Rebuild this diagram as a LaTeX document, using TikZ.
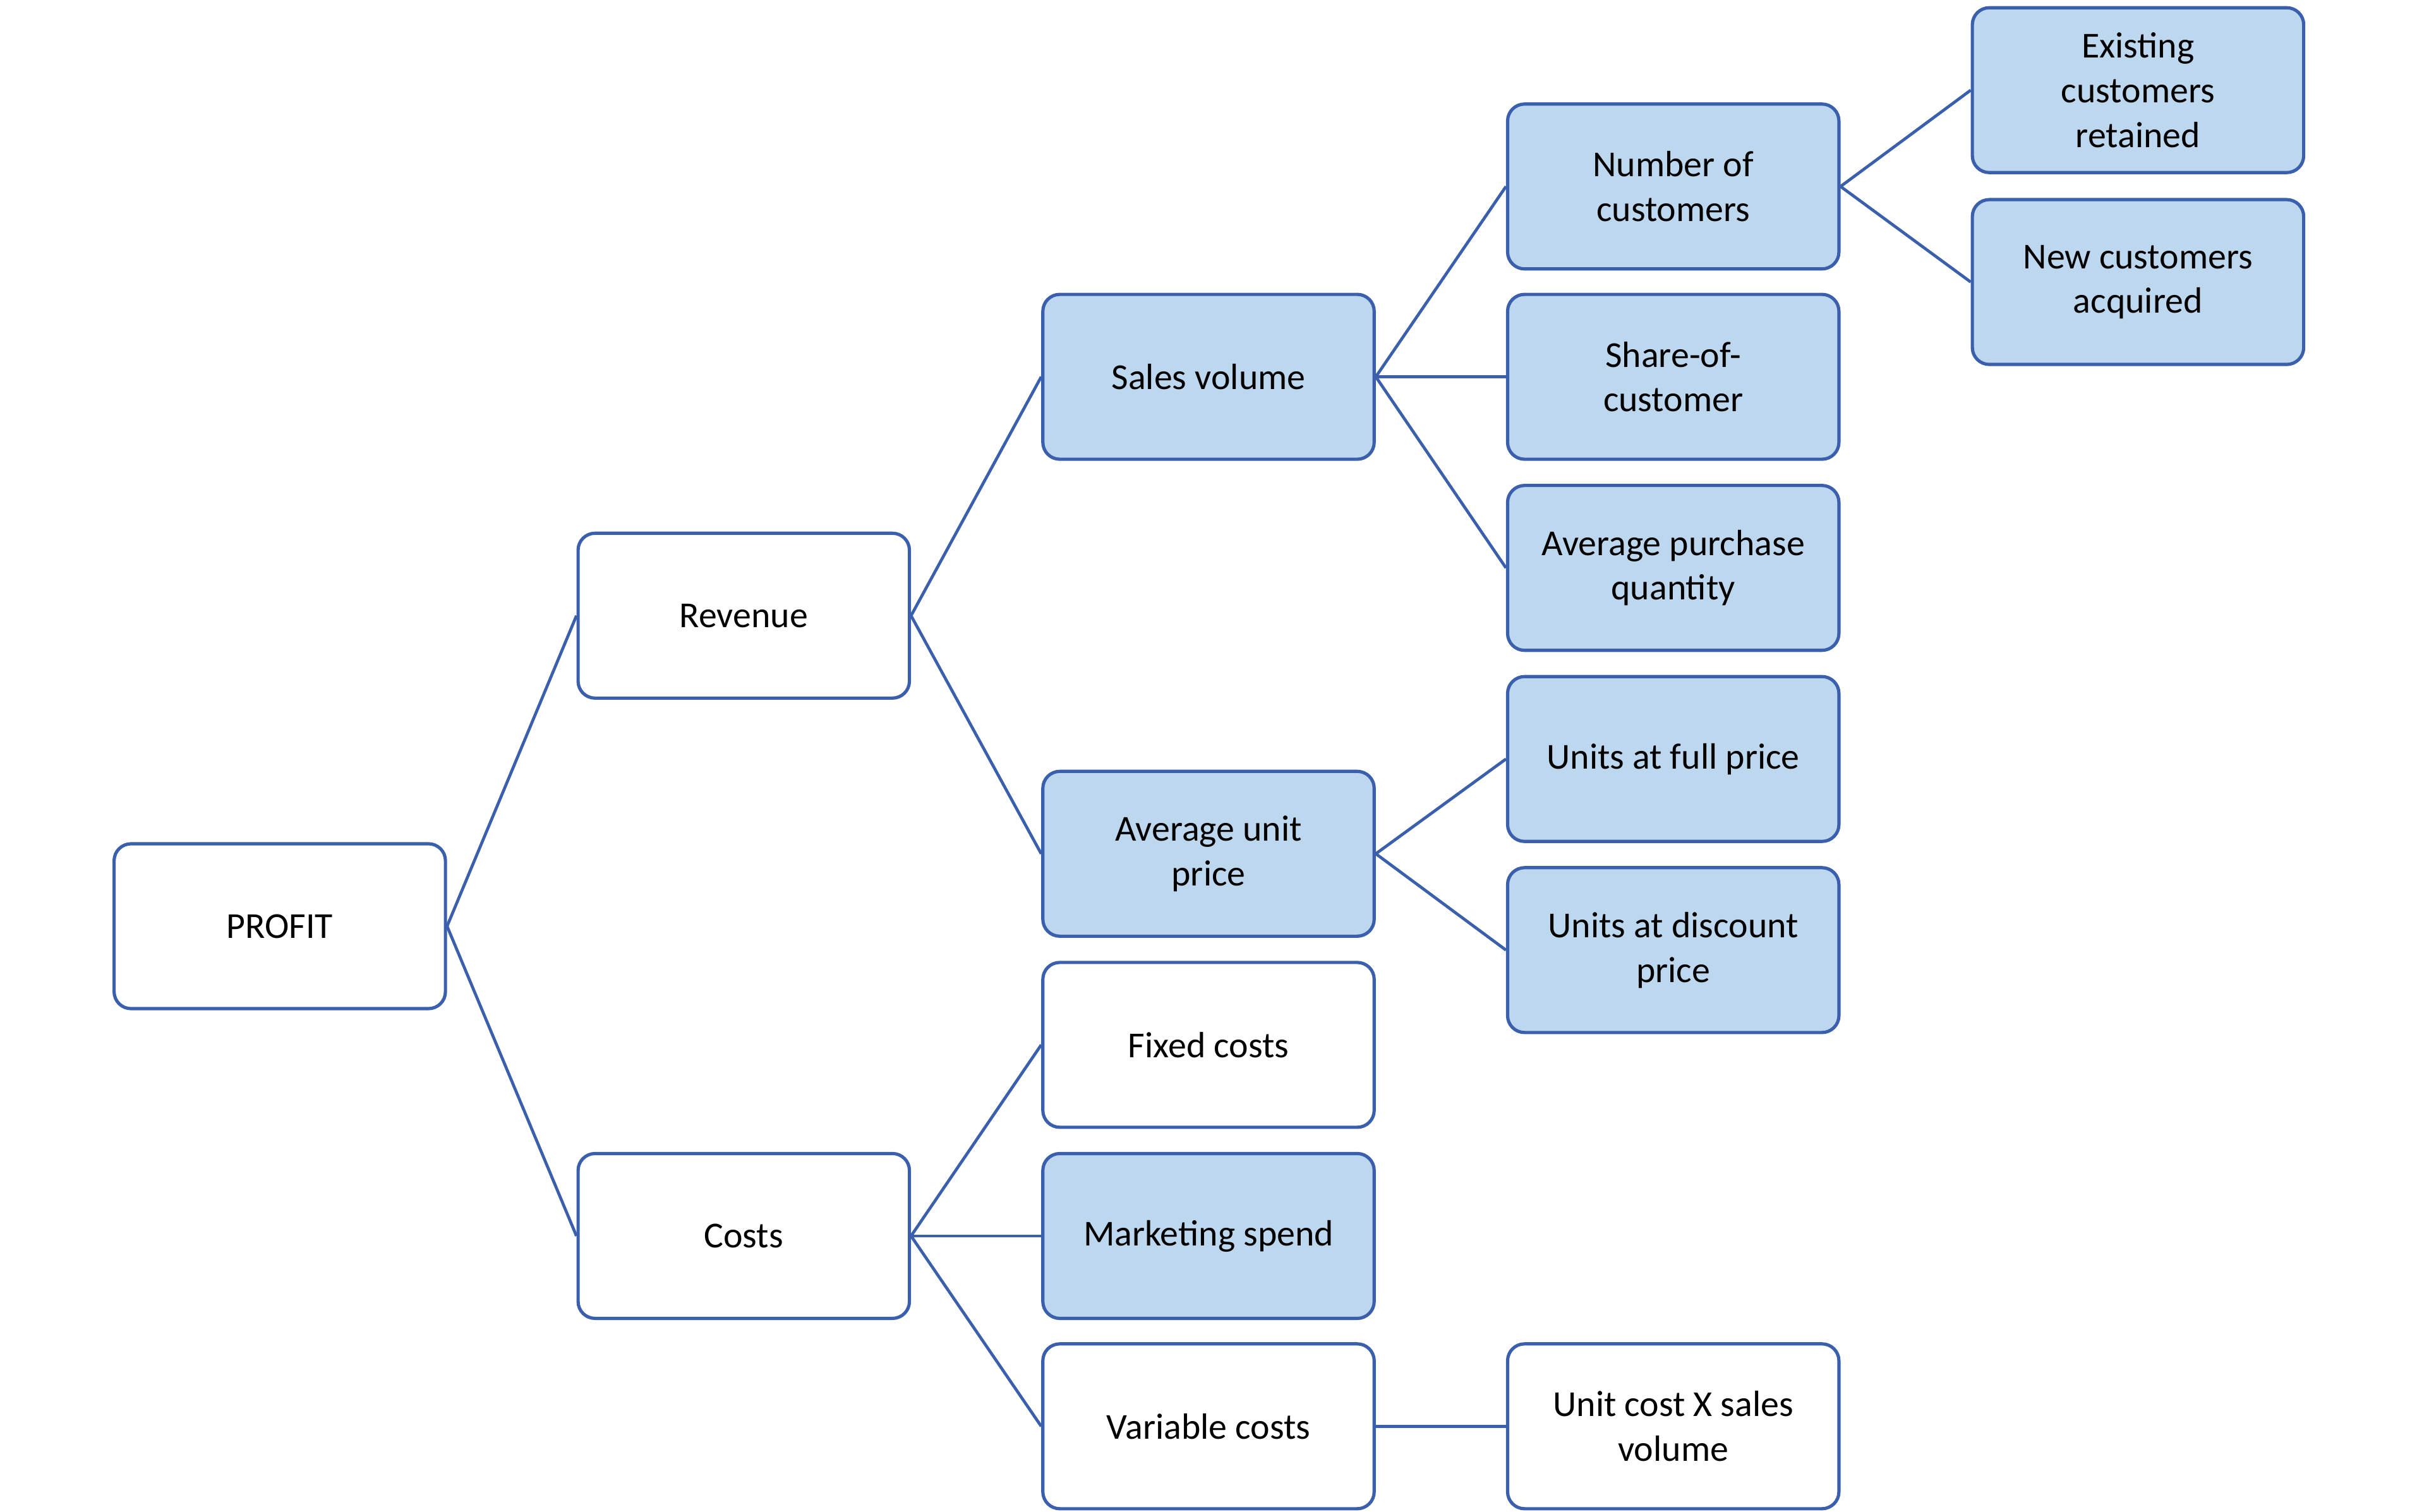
\documentclass[tikz,border=0pt]{standalone}
\usepackage{fontspec}
\setmainfont{Carlito}
\usepackage{xcolor}
\usetikzlibrary{positioning}
\definecolor{edgeblue}{HTML}{3A5FAD}
\definecolor{fillblue}{HTML}{BDD7EE}

\begin{document}
\begin{tikzpicture}[
    x={(0.02cm,0)}, y={(0,-0.02cm)},
    box/.style={rectangle, draw=edgeblue, line width=1.2pt, rounded corners=0.22cm, fill=white, minimum width=4.3cm, minimum height=2.14cm, font=\fontsize{13.5}{16.5}\selectfont, align=center},
    hit/.style={box, fill=fillblue},
    link/.style={draw=edgeblue, line width=1.1pt}
]
\useasboundingbox (0,0) rectangle (1568,981);

% Level 0 and 1
\node[box] (profit) at (181.5,601) {PROFIT};
\node[box] (revenue) at (482.5,399.5) {Revenue};
\node[box] (costs) at (482.5,802) {Costs};

% Level 2
\node[hit] (sales) at (784,244.5) {Sales volume};
\node[hit] (avgprice) at (784,554) {Average unit\\price};
\node[box] (fixed) at (784,678) {Fixed costs};
\node[hit] (marketing) at (784,802) {Marketing spend};
\node[box] (variable) at (784,925.5) {Variable costs};

% Level 3
\node[hit] (numcust) at (1085.5,121) {Number of\\customers};
\node[hit] (share) at (1085.5,244.5) {Share-of-\\customer};
\node[hit] (avgqty) at (1085.5,368.5) {Average purchase\\quantity};
\node[hit] (fullprice) at (1085.5,492.5) {Units at full price};
\node[hit] (discount) at (1085.5,616.5) {Units at discount\\price};
\node[box] (unitcost) at (1085.5,925.5) {Unit cost X sales\\volume};

% Level 4
\node[hit] (existing) at (1387,58.5) {Existing\\customers\\retained};
\node[hit] (newcust) at (1387,183) {New customers\\acquired};

% Links
\draw[link] (profit.east) -- (revenue.west);
\draw[link] (profit.east) -- (costs.west);
\draw[link] (revenue.east) -- (sales.west);
\draw[link] (revenue.east) -- (avgprice.west);
\draw[link] (costs.east) -- (fixed.west);
\draw[link] (costs.east) -- (marketing.west);
\draw[link] (costs.east) -- (variable.west);
\draw[link] (sales.east) -- (numcust.west);
\draw[link] (sales.east) -- (share.west);
\draw[link] (sales.east) -- (avgqty.west);
\draw[link] (avgprice.east) -- (fullprice.west);
\draw[link] (avgprice.east) -- (discount.west);
\draw[link] (variable.east) -- (unitcost.west);
\draw[link] (numcust.east) -- (existing.west);
\draw[link] (numcust.east) -- (newcust.west);

\end{tikzpicture}
\end{document}
